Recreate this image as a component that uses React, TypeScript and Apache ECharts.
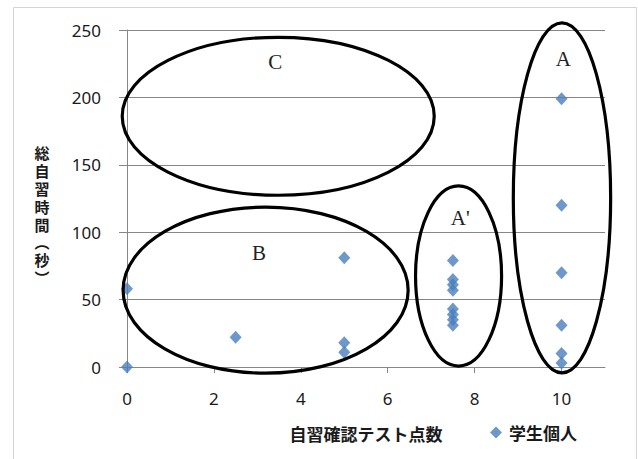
import React, { useEffect, useRef } from "react";
import * as echarts from "echarts";

// Data: 自習確認テスト点数 (x) vs 総自習時間 (秒) (y)
const scoreX: number[] = [0, 0, 2.5, 5, 5, 5, 7.5, 7.5, 7.5, 7.5, 7.5, 7.5, 7.5, 7.5, 10, 10, 10, 10, 10, 10];
const timeY: number[] = [0, 58, 22, 81, 18, 11, 79, 65, 61, 57, 43, 39, 35, 31, 199, 120, 70, 31, 10, 3];

const xTicks: number[] = [0, 2, 4, 6, 8, 10];
const yTicks: number[] = [0, 50, 100, 150, 200, 250];

// Annotation ellipses in data units: label, centre x, centre y, radius x, radius y, label x, label y
const groupNames: string[] = ["C", "B", "A'", "A"];
const groupCx: number[] = [3.48, 3.19, 7.63, 10.01];
const groupCy: number[] = [186, 57, 67.5, 125.5];
const groupRx: number[] = [3.59, 3.28, 0.99, 1.12];
const groupRy: number[] = [58.6, 61.6, 66.8, 129.8];
const labelX: number[] = [3.41, 3.04, 7.67, 10.04];
const labelY: number[] = [226, 84.6, 110.5, 228.5];

const yNameChars: string[] = ["総", "自", "習", "時", "間", "︵", "秒", "︶"];

export default function App() {
  const ref = useRef<HTMLDivElement>(null);
  useEffect(() => {
    if (!ref.current) return;
    const chart = echarts.init(ref.current, null, { renderer: "svg" });
    const axisColor = "#868686";
    const textColor = "#1a1a1a";
    const numFont = "'Noto Sans', 'Liberation Sans', sans-serif";
    const cjkFont = "'Noto Sans CJK JP', 'Noto Sans', sans-serif";
    chart.setOption({
      animation: false,
      backgroundColor: "#ffffff",
      grid: { left: 127, right: 33, top: 30, bottom: 92, containLabel: false },
      xAxis: {
        type: "value",
        min: 0,
        max: 11,
        interval: 2,
        axisLine: { show: true, onZero: false, lineStyle: { color: axisColor, width: 1 } },
        axisTick: { show: true, length: 6, customValues: xTicks, lineStyle: { color: axisColor } },
        axisLabel: {
          customValues: xTicks,
          formatter: (v: number) => (v > 10 ? "" : String(v)),
          margin: 23,
          fontSize: 17,
          fontFamily: numFont,
          color: textColor,
        },
        splitLine: { show: false },
      },
      yAxis: {
        type: "value",
        min: yTicks[0],
        max: yTicks[yTicks.length - 1],
        interval: 50,
        axisLine: { show: true, lineStyle: { color: axisColor, width: 1 } },
        axisTick: { show: true, length: 8, lineStyle: { color: axisColor } },
        axisLabel: {
          margin: 26,
          fontSize: 17,
          fontFamily: numFont,
          color: textColor,
        },
        splitLine: { show: true, lineStyle: { color: axisColor, width: 1 } },
      },
      legend: {
        show: true,
        left: 490,
        top: 424,
        padding: 0,
        itemWidth: 12,
        itemHeight: 12,
        icon: "diamond",
        data: ["学生個人"],
        textStyle: { fontSize: 17, fontWeight: "bold", fontFamily: cjkFont, color: textColor, padding: [0, 0, 0, 2] },
      },
      series: [
        {
          name: "学生個人",
          type: "scatter",
          symbol: "diamond",
          symbolSize: [12, 13],
          itemStyle: { color: "#4a7ebb" },
          data: scoreX.map((x, i) => [x, timeY[i]]),
          z: 3,
        },
      ],
    });

    const toPx = (x: number, y: number) => chart.convertToPixel({ gridIndex: 0 }, [x, y]) as number[];
    const graphics: any[] = [
      {
        type: "rect",
        shape: { x: 13.5, y: 7.5, width: 623, height: 470 },
        style: { fill: "none", stroke: "#d4d4d4", lineWidth: 1 },
        silent: true,
        z: 0,
      },
    ];
    groupNames.forEach((name, i) => {
      const c = toPx(groupCx[i], groupCy[i]);
      const ex = toPx(groupCx[i] + groupRx[i], groupCy[i]);
      const ey = toPx(groupCx[i], groupCy[i] + groupRy[i]);
      graphics.push({
        type: "ellipse",
        shape: { cx: c[0], cy: c[1], rx: ex[0] - c[0], ry: c[1] - ey[1] },
        style: { fill: "none", stroke: "#000000", lineWidth: 3.2 },
        silent: true,
        z: 10,
      });
      const l = toPx(labelX[i], labelY[i]);
      graphics.push({
        type: "text",
        x: l[0],
        y: l[1],
        style: {
          text: name,
          fontSize: 21,
          fontFamily: "'Liberation Serif', 'DejaVu Serif', serif",
          fill: "#222222",
          align: "center",
          verticalAlign: "middle",
          textAlign: "center",
          textVerticalAlign: "middle",
        },
        silent: true,
        z: 10,
      });
    });
    graphics.push({
      type: "text",
      x: 42,
      y: 144,
      style: {
        text: yNameChars.join("\n"),
        fontSize: 15,
        lineHeight: 17.8,
        fontWeight: "bold",
        fontFamily: cjkFont,
        fill: textColor,
        align: "center",
        verticalAlign: "top",
        textAlign: "center",
        textVerticalAlign: "top",
      },
      silent: true,
      z: 10,
    });
    graphics.push({
      type: "text",
      x: 366,
      y: 433,
      style: {
        text: "自習確認テスト点数",
        fontSize: 17,
        fontWeight: "bold",
        fontFamily: cjkFont,
        fill: textColor,
        align: "center",
        verticalAlign: "middle",
        textAlign: "center",
        textVerticalAlign: "middle",
      },
      silent: true,
      z: 10,
    });
    chart.setOption({ graphic: { elements: graphics } });

    return () => {
      chart.dispose();
    };
  }, []);
  return (
    <div
      ref={ref}
      style={{ position: "fixed", left: 0, top: 0, width: 638, height: 459, background: "#fff" }}
    />
  );
}
